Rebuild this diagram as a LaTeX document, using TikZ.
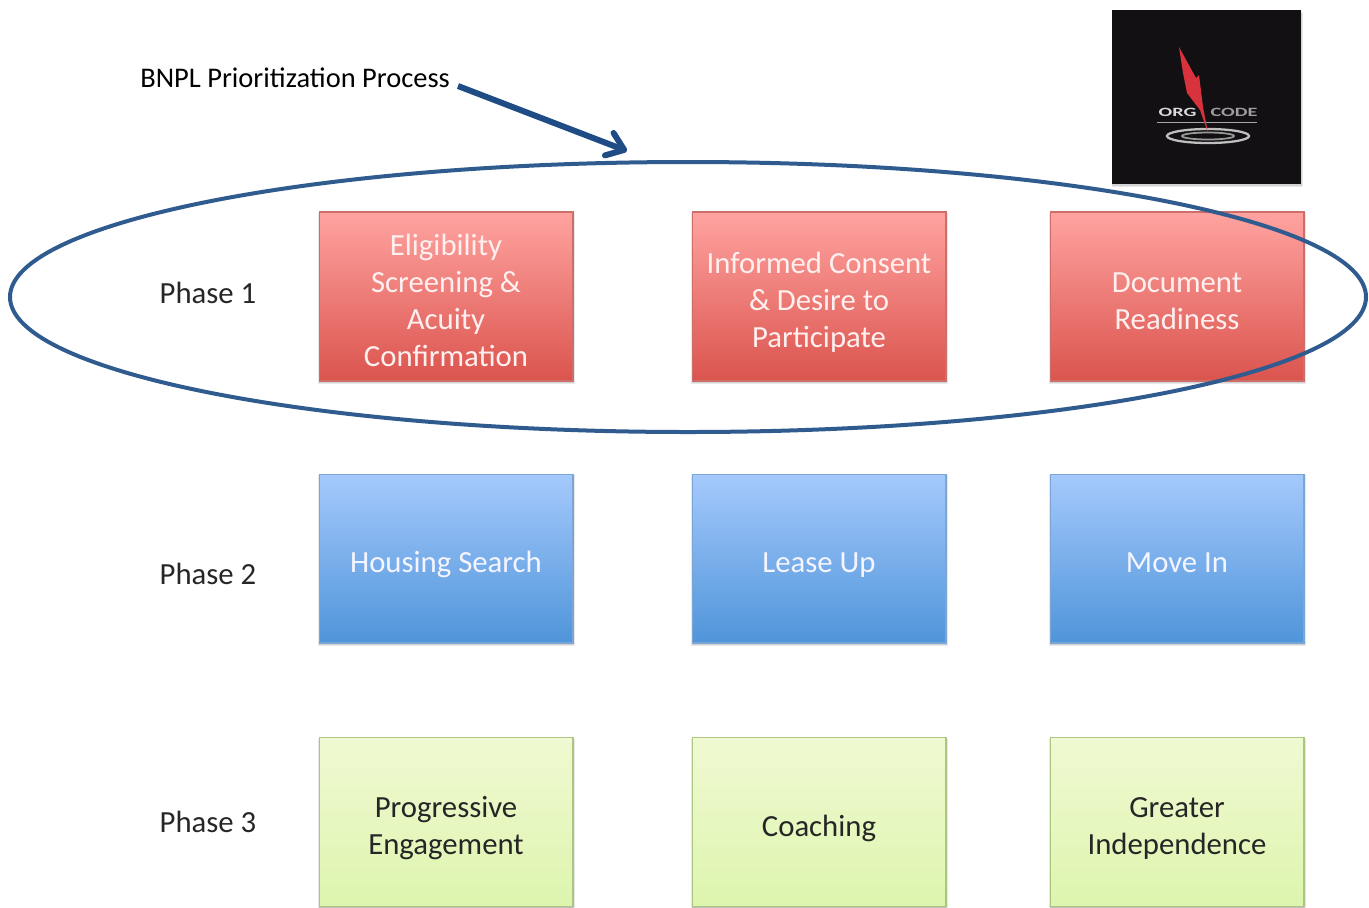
\documentclass[tikz,border=0pt]{standalone}
\usepackage{fontspec}
\setmainfont{Carlito}
\usetikzlibrary{arrows.meta}
\definecolor{ringblue}{HTML}{2F5B8F}
\definecolor{arrowblue}{HTML}{1F4C85}
\definecolor{redtop}{HTML}{FFA3A0}
\definecolor{redbot}{HTML}{DB544E}
\definecolor{redline}{HTML}{CC6E6A}
\definecolor{bluetop}{HTML}{A5C9FC}
\definecolor{bluebot}{HTML}{4F95DA}
\definecolor{blueline}{HTML}{7AA5D4}
\definecolor{greentop}{HTML}{F0F9D2}
\definecolor{greenbot}{HTML}{DDF5AE}
\definecolor{greenline}{HTML}{ABC680}
\definecolor{logoblack}{HTML}{131014}
\definecolor{boltred}{HTML}{D8333C}
\newcommand{\cardlines}[1]{\rule{0pt}{22.5pt}#1\rule[-6.3pt]{0pt}{6.3pt}}
\tikzset{
    card/.style={minimum width=5.08cm,minimum height=3.38cm,draw=#1,line width=0.6pt,align=center,
        inner sep=0pt,font=\fontsize{17.5}{21}\selectfont},
    redcard/.style={card=redline,top color=redtop,bottom color=redbot,text=white!94!red},
    bluecard/.style={card=blueline,top color=bluetop,bottom color=bluebot,text=white!96!blue},
    greencard/.style={card=greenline,top color=greentop,bottom color=greenbot,text=black!85},
    softshadow/.style={fill=black,opacity=0.09},
    phase/.style={font=\fontsize{17.5}{21}\selectfont,text=black!85},
    logotext/.style={font=\bfseries\fontsize{7.2}{8}\selectfont,inner sep=0pt,transform shape,xscale=1.6}
}
\newcommand{\cardshadow}[2]{%
    \fill[softshadow] (#1-1,#2+1) rectangle (#1+256,#2+172);
    \fill[softshadow] (#1,#2+2) rectangle (#1+255,#2+171);
    \fill[softshadow] (#1,#2+3) rectangle (#1+254,#2+170);}
\begin{document}
\begin{tikzpicture}[x=0.02cm,y=-0.02cm]
    \useasboundingbox (0,0) rectangle (1369,907);
    % shadows under the boxes
    \cardshadow{319}{212}
    \cardshadow{692}{212}
    \cardshadow{1050}{212}
    \cardshadow{319}{474}
    \cardshadow{692}{474}
    \cardshadow{1050}{474}
    \cardshadow{319}{738}
    \cardshadow{692}{738}
    \cardshadow{1050}{738}
    % first row
    \node[redcard] (elig) at (446,296.5) {\cardlines{Eligibility\\Screening \&\\Acuity\\Confirmation}};
    \node[redcard] (consent) at (819,296.5) {\cardlines{Informed Consent\\\& Desire to\\Participate}};
    \node[redcard] (docs) at (1177,296.5) {\cardlines{Document\\Readiness}};
    % second row
    \node[bluecard] (search) at (446,558.5) {\cardlines{Housing Search}};
    \node[bluecard] (lease) at (819,558.5) {\cardlines{Lease Up}};
    \node[bluecard] (move) at (1177,558.5) {\cardlines{Move In}};
    % third row
    \node[greencard] (engage) at (446,822) {\cardlines{Progressive\\Engagement}};
    \node[greencard] (coach) at (819,822) {\cardlines{Coaching}};
    \node[greencard] (indep) at (1177,822) {\cardlines{Greater\\Independence}};
    % phases
    \node[phase] (ph1) at (208,293) {Phase 1};
    \node[phase] (ph2) at (208,574) {Phase 2};
    \node[phase] (ph3) at (208,822) {Phase 3};
    % ellipse and arrow
    \draw[ringblue,line width=0.08cm] (688,297) ellipse (678 and 135);
    \node[anchor=west,inner sep=0pt,font=\fontsize{16.2}{20}\selectfont] (title) at (140,78) {BNPL Prioritization Process};
    \coordinate (arrowstart) at (458,86);
    \coordinate (arrowend) at (627,151);
    \draw[arrowblue,line width=0.12cm,-{Straight Barb[length=0.32cm,width=0.48cm,round]}] (arrowstart) -- (arrowend);
    % logo
    \begin{scope}[shift={(1112,10)}]
        \fill[softshadow] (0,2) rectangle (191,176);
        \fill[softshadow] (0,3) rectangle (190,177);
        \node[fill=logoblack,minimum width=3.78cm,minimum height=3.48cm,anchor=north west,inner sep=0pt] (logo) at (0,0) {};
        \node[logotext,text=white!85!black,anchor=east] (org) at (85,102) {ORG};
        \node[logotext,text=white!62!black,anchor=west] (code) at (98,102) {CODE};
        \draw[gray!70,line width=0.3pt] (45,112) -- (145,112);
        \draw[white!75!black,line width=1.3pt] (96,126) ellipse (41 and 7);
        \draw[white!60!black,line width=1pt] (96,126) ellipse (26 and 3.5);
        \fill[boltred] (67,37) -- (84,68) -- (87,65) -- (91,97) -- (96,123) -- (88,100) -- (75,83) -- (71,63) -- cycle;
    \end{scope}
\end{tikzpicture}
\end{document}
